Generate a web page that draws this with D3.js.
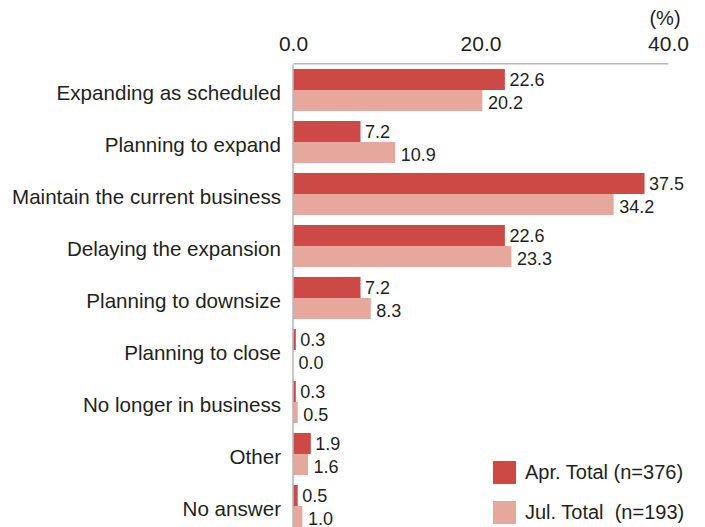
<!DOCTYPE html>
<html>
<head>
<meta charset="utf-8">
<script src="https://cdn.jsdelivr.net/npm/d3@7"></script>
<style>
  html, body { margin: 0; padding: 0; background: #fff; }
  svg { display: block; font-family: "Liberation Sans", Arial, sans-serif; }
</style>
</head>
<body>
<svg id="chart" width="705" height="527"></svg>
<script>
// Business outlook categories and survey shares (%)
const categories = [
  "Expanding as scheduled",
  "Planning to expand",
  "Maintain the current business",
  "Delaying the expansion",
  "Planning to downsize",
  "Planning to close",
  "No longer in business",
  "Other",
  "No answer"
];
const aprValues = [22.6, 7.2, 37.5, 22.6, 7.2, 0.3, 0.3, 1.9, 0.5];
const julValues = [20.2, 10.9, 34.2, 23.3, 8.3, 0.0, 0.5, 1.6, 1.0];
const seriesNames = ["Apr. Total (n=376)", "Jul. Total\u00a0 (n=193)"];
const tickValues = [0, 20, 40];
const unitLabel = "(%)";

const colors = ["#cc4946", "#e6a89c"];
const textColor = "#231f20";
const axisColor = "#b9b9b9";

const svg = d3.select("#chart");

const x = d3.scaleLinear().domain([0, 40]).range([293, 668]);
const y = d3.scaleBand()
  .domain(categories)
  .range([64, 532])
  .paddingInner(10 / 52)
  .paddingOuter(5 / 52);
const sub = d3.scaleBand().domain([0, 1]).range([0, y.bandwidth()]);

const rows = categories.map((c, i) => ({ c, vals: [aprValues[i], julValues[i]] }));

// bars
const groups = svg.append("g").selectAll("g")
  .data(rows).join("g")
  .attr("transform", d => `translate(0,${y(d.c)})`);

groups.selectAll("rect")
  .data(d => d.vals.map((v, k) => ({ v, k })))
  .join("rect")
  .attr("x", x(0))
  .attr("y", d => sub(d.k))
  .attr("width", d => x(d.v) - x(0))
  .attr("height", sub.bandwidth())
  .attr("fill", d => colors[d.k]);

// value labels
groups.selectAll("text")
  .data(d => d.vals.map((v, k) => ({ v, k })))
  .join("text")
  .attr("x", d => x(d.v) + (d.k === 0 ? 4.5 : 5.5))
  .attr("y", d => sub(d.k) + sub.bandwidth() / 2 + (d.k === 0 ? 6.5 : 8.5))
  .attr("font-size", 18)
  .attr("fill", textColor)
  .text(d => d3.format(".1f")(d.v));

// top value axis
const xAxis = svg.append("g")
  .attr("transform", "translate(0,63.3)")
  .call(d3.axisTop(x).tickValues(tickValues).tickFormat(d3.format(".1f")).tickSize(0).tickPadding(12));
xAxis.select(".domain").attr("stroke", axisColor).attr("stroke-width", 1.6);
xAxis.selectAll("text").attr("font-size", 21).attr("fill", textColor)
  .attr("font-family", "Liberation Sans, Arial, sans-serif");

svg.append("text")
  .attr("x", x(40) - 3)
  .attr("y", 25)
  .attr("text-anchor", "middle")
  .attr("font-size", 20)
  .attr("fill", textColor)
  .text(unitLabel);

// category axis
const yAxis = svg.append("g")
  .attr("transform", `translate(${x(0) - 0.5},0)`)
  .call(d3.axisLeft(y).tickSize(0).tickPadding(11.5));
yAxis.select(".domain").attr("stroke", axisColor).attr("stroke-width", 1.6);
yAxis.selectAll("text").attr("font-size", 20.6).attr("fill", textColor)
  .attr("dy", "0.47em")
  .attr("font-family", "Liberation Sans, Arial, sans-serif");

// legend
const legend = svg.append("g").selectAll("g")
  .data(seriesNames).join("g")
  .attr("transform", (d, i) => `translate(493,${461 + i * 40})`);
legend.append("rect")
  .attr("width", 23).attr("height", 23)
  .attr("fill", (d, i) => colors[i]);
legend.append("text")
  .attr("x", 32).attr("y", 17.5)
  .attr("font-size", 20)
  .attr("fill", textColor)
  .style("white-space", "pre")
  .text(d => d);
</script>
</body>
</html>
